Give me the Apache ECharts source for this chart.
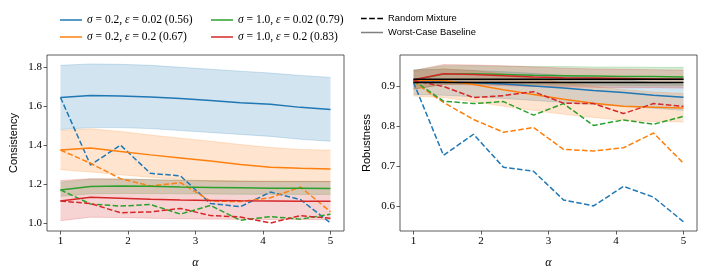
<!DOCTYPE html>
<html><head><meta charset="utf-8">
<script src="https://cdn.jsdelivr.net/npm/echarts@6/dist/echarts.min.js"></script>
<style>html,body{margin:0;padding:0;background:#fff}#c{width:705px;height:274px}</style>
</head><body><div id="c"></div>
<script>
const alphaX = [1, 1.4444, 1.8889, 2.3333, 2.7778, 3.2222, 3.6667, 4.1111, 4.5556, 5];
const xTicks = [1, 2, 3, 4, 5];
const consTicks = [1.0, 1.2, 1.4, 1.6, 1.8];
const robTicks = [0.6, 0.7, 0.8, 0.9];

const labels = ['σ = 0.2, ε = 0.02 (0.56)', 'σ = 0.2, ε = 0.2 (0.67)', 'σ = 1.0, ε = 0.02 (0.79)', 'σ = 1.0, ε = 0.2 (0.83)'];
const colors = ['#1f77b4', '#ff7f0e', '#2ca02c', '#d62728'];

// Consistency (left)
const consBlueMean = [1.645, 1.655, 1.652, 1.647, 1.639, 1.629, 1.618, 1.610, 1.594, 1.583];
const consBlueLo   = [1.48, 1.49, 1.49, 1.485, 1.475, 1.465, 1.455, 1.445, 1.43, 1.42];
const consBlueHi   = [1.81, 1.817, 1.815, 1.81, 1.80, 1.79, 1.78, 1.77, 1.758, 1.748];
const consBlueRand = [1.645, 1.298, 1.40, 1.255, 1.242, 1.10, 1.084, 1.159, 1.12, 1.0];

const consOrangeMean = [1.375, 1.385, 1.367, 1.350, 1.334, 1.318, 1.300, 1.287, 1.281, 1.278];
const consOrangeLo   = [1.274, 1.262, 1.248, 1.235, 1.222, 1.216, 1.214, 1.213, 1.213, 1.213];
const consOrangeHi   = [1.475, 1.484, 1.47, 1.452, 1.436, 1.42, 1.403, 1.388, 1.378, 1.374];
const consOrangeRand = [1.375, 1.307, 1.228, 1.19, 1.207, 1.113, 1.11, 1.13, 1.185, 1.058];

const consGreenMean = [1.17, 1.187, 1.19, 1.189, 1.185, 1.183, 1.181, 1.179, 1.178, 1.177];
const consGreenLo   = [1.137, 1.15, 1.152, 1.151, 1.15, 1.149, 1.148, 1.148, 1.147, 1.147];
const consGreenHi   = [1.21, 1.225, 1.226, 1.224, 1.22, 1.218, 1.216, 1.215, 1.214, 1.213];
const consGreenRand = [1.17, 1.098, 1.087, 1.095, 1.046, 1.09, 1.014, 1.033, 1.02, 1.045];

const consRedMean = [1.113, 1.132, 1.127, 1.122, 1.118, 1.116, 1.114, 1.113, 1.112, 1.112];
const consRedLo   = [1.012, 1.03, 1.028, 1.025, 1.022, 1.02, 1.019, 1.018, 1.018, 1.017];
const consRedHi   = [1.218, 1.228, 1.226, 1.222, 1.218, 1.216, 1.214, 1.213, 1.213, 1.213];
const consRedRand = [1.113, 1.1, 1.053, 1.057, 1.075, 1.038, 1.031, 1.0, 1.038, 1.024];

// Robustness (right)
const robBlueMean = [0.913, 0.911, 0.909, 0.906, 0.901, 0.896, 0.890, 0.885, 0.878, 0.873];
const robBlueLo   = [0.88, 0.878, 0.874, 0.87, 0.865, 0.86, 0.855, 0.85, 0.845, 0.84];
const robBlueHi   = [0.942, 0.943, 0.94, 0.937, 0.933, 0.928, 0.922, 0.917, 0.91, 0.905];
const robBlueRand = [0.91, 0.727, 0.78, 0.697, 0.687, 0.615, 0.6, 0.649, 0.622, 0.56];

const robOrangeMean = [0.915, 0.915, 0.905, 0.892, 0.880, 0.868, 0.858, 0.850, 0.848, 0.846];
const robOrangeLo   = [0.876, 0.872, 0.862, 0.85, 0.84, 0.83, 0.822, 0.815, 0.812, 0.811];
const robOrangeHi   = [0.938, 0.945, 0.94, 0.932, 0.922, 0.91, 0.9, 0.892, 0.886, 0.882];
const robOrangeRand = [0.912, 0.86, 0.817, 0.785, 0.797, 0.742, 0.738, 0.746, 0.783, 0.707];

const robGreenMean = [0.916, 0.931, 0.932, 0.930, 0.928, 0.927, 0.926, 0.925, 0.925, 0.924];
const robGreenLo   = [0.893, 0.905, 0.906, 0.905, 0.904, 0.903, 0.903, 0.902, 0.902, 0.902];
const robGreenHi   = [0.94, 0.952, 0.952, 0.951, 0.95, 0.95, 0.949, 0.949, 0.948, 0.948];
const robGreenRand = [0.915, 0.863, 0.857, 0.862, 0.828, 0.857, 0.802, 0.816, 0.805, 0.825];

const robRedMean = [0.917, 0.932, 0.930, 0.927, 0.924, 0.922, 0.921, 0.920, 0.919, 0.918];
const robRedLo   = [0.893, 0.905, 0.904, 0.902, 0.9, 0.899, 0.898, 0.897, 0.897, 0.896];
const robRedHi   = [0.94, 0.955, 0.954, 0.952, 0.949, 0.946, 0.944, 0.943, 0.942, 0.941];
const robRedRand = [0.915, 0.90, 0.872, 0.877, 0.887, 0.858, 0.857, 0.832, 0.857, 0.85];

const robBaselineA = [0.918, 0.918, 0.918, 0.918, 0.918, 0.918, 0.918, 0.918, 0.918, 0.918];
const robBaselineB = [0.910, 0.910, 0.910, 0.910, 0.910, 0.910, 0.910, 0.910, 0.910, 0.910];

const SERIF = '"Liberation Serif","DejaVu Serif",serif';
const SANS = '"Liberation Sans","DejaVu Sans",sans-serif';

function pts(arr) { return alphaX.map((v, i) => [v, arr[i]]); }

const series = [];
function bandSeries(ax, c, lo, hi) {
  const rows = alphaX.map((v, i) => [v, lo[i], hi[i]]);
  return {
    type: 'custom', xAxisIndex: ax, yAxisIndex: ax, silent: true, data: rows,
    encode: { x: 0, y: [1, 2] }, clip: true,
    renderItem: function (params, api) {
      if (params.dataIndex !== 0) return null;
      const top = rows.map(r => api.coord([r[0], r[2]]));
      const bot = rows.map(r => api.coord([r[0], r[1]])).reverse();
      const poly = top.concat(bot);
      return {
        type: 'group', children: [
          { type: 'polygon', shape: { points: poly }, style: { fill: c, opacity: 0.2 } },
          { type: 'polyline', shape: { points: top }, style: { stroke: c, fill: null, lineWidth: 0.8, opacity: 0.25 } },
          { type: 'polyline', shape: { points: bot }, style: { stroke: c, fill: null, lineWidth: 0.8, opacity: 0.25 } }
        ]
      };
    }
  };
}
function addGroup(ax, k, mean, lo, hi, rand) {
  const c = colors[k];
  series.push(bandSeries(ax, c, lo, hi));
  series.push({ name: labels[k], type: 'line', xAxisIndex: ax, yAxisIndex: ax, data: pts(mean), symbol: 'none',
    color: c, lineStyle: { color: c, width: 1.5 } });
  series.push({ name: '_rm' + ax + k, type: 'line', xAxisIndex: ax, yAxisIndex: ax, data: pts(rand), symbol: 'none',
    color: c, lineStyle: { color: c, width: 1.5, type: [5.5, 2.4] } });
}
addGroup(0, 0, consBlueMean, consBlueLo, consBlueHi, consBlueRand);
addGroup(0, 1, consOrangeMean, consOrangeLo, consOrangeHi, consOrangeRand);
addGroup(0, 2, consGreenMean, consGreenLo, consGreenHi, consGreenRand);
addGroup(0, 3, consRedMean, consRedLo, consRedHi, consRedRand);
addGroup(1, 0, robBlueMean, robBlueLo, robBlueHi, robBlueRand);
addGroup(1, 1, robOrangeMean, robOrangeLo, robOrangeHi, robOrangeRand);
addGroup(1, 2, robGreenMean, robGreenLo, robGreenHi, robGreenRand);
addGroup(1, 3, robRedMean, robRedLo, robRedHi, robRedRand);
series.push({ name: 'Worst-Case Baseline', type: 'line', xAxisIndex: 1, yAxisIndex: 1, data: pts(robBaselineA),
  symbol: 'none', color: '#000', lineStyle: { color: '#000', width: 1.5 } });
series.push({ name: 'Worst-Case Baseline', type: 'line', xAxisIndex: 1, yAxisIndex: 1, data: pts(robBaselineB),
  symbol: 'none', color: '#000', lineStyle: { color: '#000', width: 1.5 } });
series.push({ name: 'Random Mixture', type: 'line', xAxisIndex: 0, yAxisIndex: 0, data: [],
  symbol: 'none', color: '#000', lineStyle: { color: '#000', width: 1.5, type: [5.5, 2.4] } });

function fmtLegend(name) {
  if (name.indexOf('σ') >= 0) {
    return '{n|' + name.replace('σ', '}{i|σ}{n|').replace('ε', '}{i|ε}{n|') + '}';
  }
  return '{s|' + name + '}';
}
const legendRich = {
  n: { fontFamily: SERIF, fontSize: 11.5, color: '#000' },
  i: { fontFamily: SERIF, fontSize: 11.5, fontStyle: 'italic', color: '#000' },
  s: { fontFamily: SANS, fontSize: 9.4, color: '#000' }
};
const SOLID_ICON = 'path://M0,0H22V1.5H0Z';
const DASH_ICON = 'path://M0,0H5.5V1.5H0Z M7.9,0H13.4V1.5H7.9Z M15.8,0H21.3V1.5H15.8Z';
function legend(left, data) {
  return { orient: 'vertical', left: left, top: 9, itemWidth: 22, itemHeight: 1.6, itemGap: 5,
    selectedMode: false, data: data, formatter: fmtLegend, textStyle: { rich: legendRich } };
}

function xAxis(gi) {
  return { type: 'value', gridIndex: gi, min: 0.8, max: 5.2, name: 'α', nameLocation: 'middle', nameGap: 26,
    nameTextStyle: { fontFamily: SERIF, fontStyle: 'italic', fontSize: 12, color: '#000' },
    axisLine: { show: false }, splitLine: { show: false },
    axisTick: { show: true, length: 3.5, lineStyle: { color: '#333', width: 0.8 }, customValues: xTicks },
    axisLabel: { customValues: xTicks, fontFamily: SERIF, fontSize: 11, color: '#000', margin: 5 } };
}
function yAxis(gi, min, max, ticks, name, gap, dec) {
  return { type: 'value', gridIndex: gi, min: min, max: max, name: name, nameLocation: 'middle', nameGap: gap,
    nameTextStyle: { fontFamily: SANS, fontSize: 11, color: '#000' },
    axisLine: { show: false }, splitLine: { show: false },
    axisTick: { show: true, length: 3.5, lineStyle: { color: '#333', width: 0.8 }, customValues: ticks },
    axisLabel: { customValues: ticks, fontFamily: SERIF, fontSize: 11, color: '#000', margin: 5,
      formatter: v => v.toFixed(dec) } };
}

const option = {
  animation: false,
  backgroundColor: '#fff',
  legend: [
    legend(55, [{ name: labels[0], icon: SOLID_ICON }, { name: labels[1], icon: SOLID_ICON }]),
    legend(206, [{ name: labels[2], icon: SOLID_ICON }, { name: labels[3], icon: SOLID_ICON }]),
    legend(356, [{ name: 'Random Mixture', icon: DASH_ICON },
      { name: 'Worst-Case Baseline', icon: SOLID_ICON, itemStyle: { color: '#7f7f7f' } }])
  ],
  grid: [
    { left: 47, top: 55, width: 297, height: 176, show: true, borderColor: '#333', borderWidth: 0.8, backgroundColor: 'transparent' },
    { left: 400, top: 55, width: 297, height: 177, show: true, borderColor: '#333', borderWidth: 0.8, backgroundColor: 'transparent' }
  ],
  xAxis: [xAxis(0), xAxis(1)],
  yAxis: [
    yAxis(0, 0.959, 1.863, consTicks, 'Consistency', 28, 1),
    yAxis(1, 0.537, 0.979, robTicks, 'Robustness', 28, 1)
  ],
  series: series
};
const chart = echarts.init(document.getElementById('c'), null, { renderer: 'canvas' });
chart.setOption(option);
</script></body></html>
